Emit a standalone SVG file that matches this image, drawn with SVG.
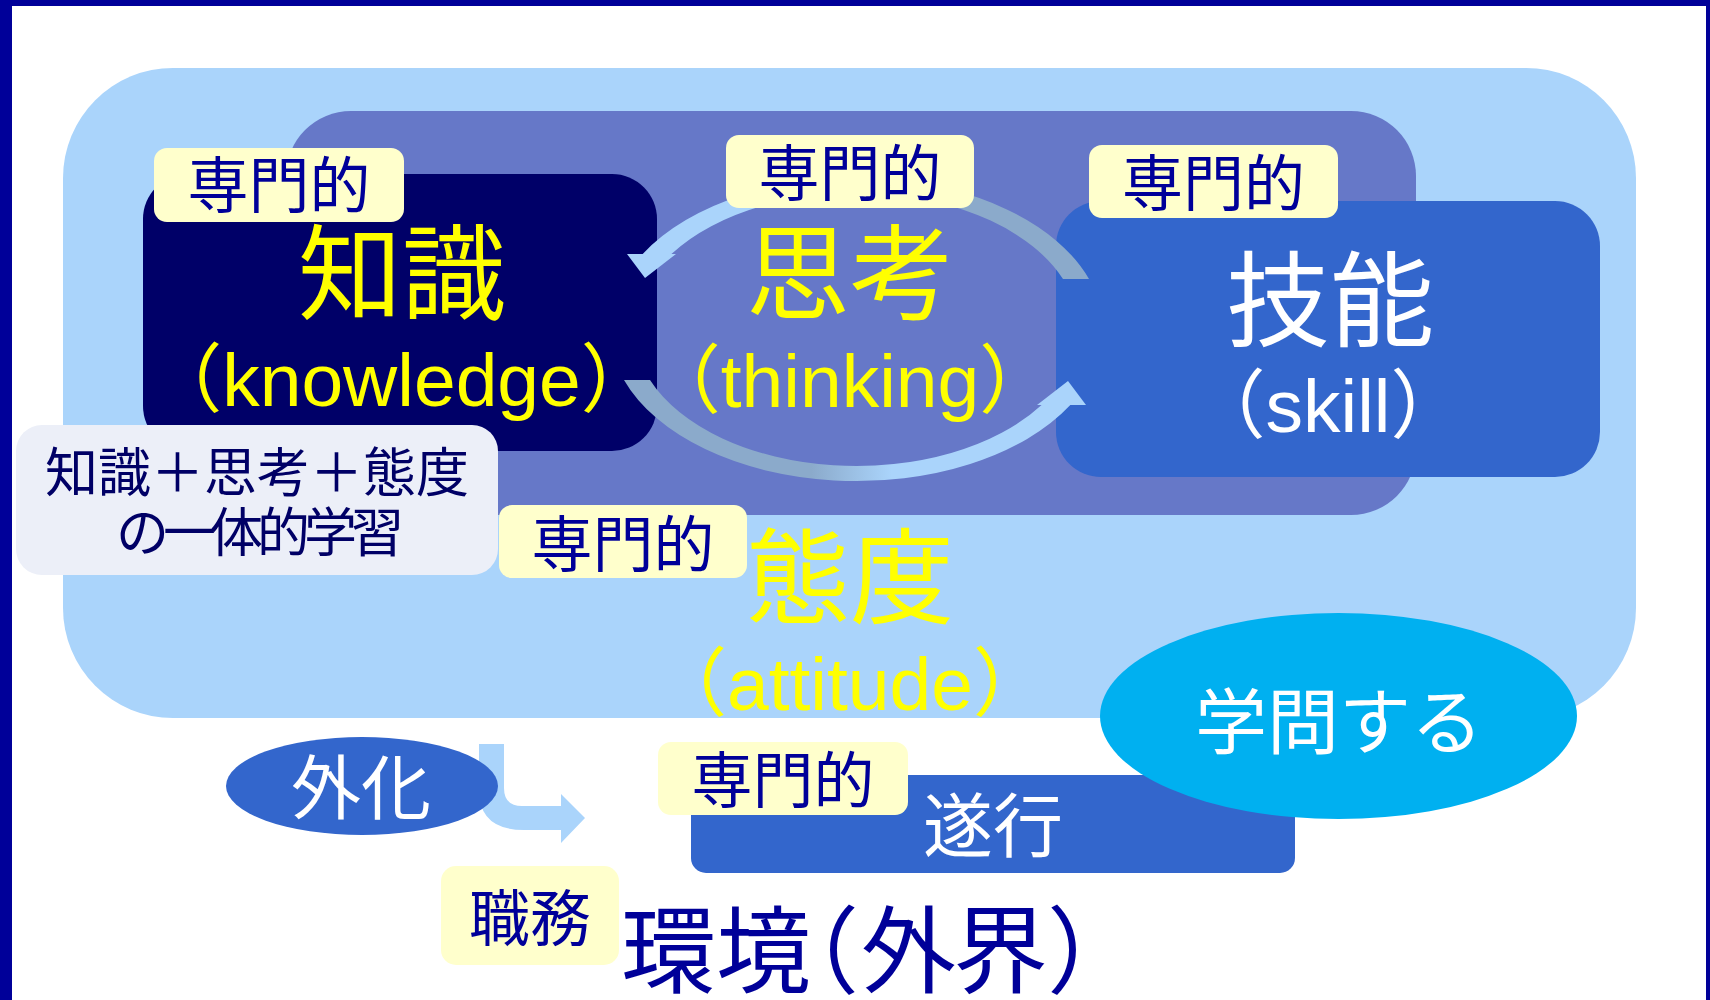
<svg xmlns="http://www.w3.org/2000/svg" width="1710" height="1000" viewBox="0 0 1710 1000">
<defs>
<style>
.cjk{font-family:"Noto Sans CJK JP","Noto Sans CJK SC",sans-serif;}
.lat{font-family:"Liberation Sans","Noto Sans CJK JP",sans-serif;}
.lbl{fill:#FFFFCC;}
.lbltxt{fill:#000099;font-size:61px;text-anchor:middle;}
.big{font-size:104px;text-anchor:middle;}
.sub{font-size:75px;text-anchor:middle;}
.yel{fill:#FFFF00;}
.wht{fill:#FFFFFF;}
.arrowfill{fill:#AAD4FB;}
</style>
<linearGradient id="gUp" gradientUnits="userSpaceOnUse" x1="1089" y1="0" x2="643" y2="0">
<stop offset="0" stop-color="#8BAACB"/>
<stop offset="0.4" stop-color="#8BAACB"/>
<stop offset="0.62" stop-color="#AAD4FB"/>
<stop offset="1" stop-color="#AAD4FB"/>
</linearGradient>
<linearGradient id="gDn" gradientUnits="userSpaceOnUse" x1="624" y1="0" x2="1070" y2="0">
<stop offset="0" stop-color="#8BAACB"/>
<stop offset="0.42" stop-color="#8BAACB"/>
<stop offset="0.6" stop-color="#AAD4FB"/>
<stop offset="1" stop-color="#AAD4FB"/>
</linearGradient>
</defs>

<!-- frame -->
<rect x="0" y="0" width="1710" height="1000" fill="#FFFFFF"/>
<rect x="0" y="0" width="1710" height="6" fill="#000099"/>
<rect x="0" y="0" width="12" height="1000" fill="#000099"/>
<rect x="1706" y="0" width="4" height="1000" fill="#000099"/>

<g id="attitude">
<rect x="63" y="68" width="1573" height="650" rx="110" ry="110" fill="#AAD4FB"/>
</g>
<g id="thinking-area">
<rect x="286" y="111" width="1130" height="404" rx="65" ry="65" fill="#6678C8"/>
</g>
<g id="knowledge">
<rect x="143" y="174" width="514" height="277" rx="45" ry="45" fill="#000068"/>
</g>
<g id="skill">
<rect x="1056" y="201" width="544" height="276" rx="45" ry="45" fill="#3366CC"/>
</g>

<g id="connectors">
<path d="M1089 279 A246.6 151.5 0 0 0 642.7 254 L671.4 254 A222.2 136.5 0 0 1 1063 279 Z" fill="url(#gUp)"/>
<polygon points="627,254 645,278 676,254" fill="#AAD4FB"/>
<path d="M624 380 A246.6 151.5 0 0 0 1070.3 405 L1041.6 405 A222.2 136.5 0 0 1 650 380 Z" fill="url(#gDn)"/>
<polygon points="1086,405 1068,381 1037,405" fill="#AAD4FB"/>
<path class="arrowfill" d="M479 744 H504 V788 Q504 806 522 806 H561 V794 L585 818 L561 843 V830 H524 Q479 830 479 790 Z"/>
</g>

<g id="knowledge-text">
<text class="cjk big yel" x="402" y="312">知識</text>
<text class="lat sub yel" x="401.5" y="406">（knowledge）</text>
</g>
<g id="thinking-text">
<text class="cjk big yel" x="850" y="312">思考</text>
<text class="lat sub yel" x="850" y="407">（thinking）</text>
</g>
<g id="skill-text">
<text class="cjk big wht" x="1330" y="339">技能</text>
<text class="lat sub wht" x="1328" y="432">（skill）</text>
</g>
<g id="attitude-text">
<text class="cjk big yel" x="850" y="616">態度</text>
<text class="lat sub yel" x="850" y="710">（attitude）</text>
</g>

<g id="label-knowledge">
<rect class="lbl" x="154" y="148" width="250" height="74" rx="13"/>
<text class="cjk lbltxt" x="279" y="208">専門的</text>
</g>
<g id="label-thinking">
<rect class="lbl" x="726" y="135" width="248" height="73" rx="13"/>
<text class="cjk lbltxt" x="850" y="196">専門的</text>
</g>
<g id="label-skill">
<rect class="lbl" x="1089" y="145" width="249" height="73" rx="13"/>
<text class="cjk lbltxt" x="1213.5" y="206">専門的</text>
</g>
<g id="label-attitude">
<rect class="lbl" x="499" y="505" width="248" height="73" rx="13"/>
<text class="cjk lbltxt" x="623" y="567">専門的</text>
</g>

<g id="integrated">
<rect x="16" y="425" width="482" height="150" rx="26" fill="#ECEFF8"/>
<text class="cjk" x="257" y="492" font-size="53" fill="#000066" text-anchor="middle">知識＋思考＋態度</text>
<text class="cjk" x="257" y="552" font-size="53" fill="#000066" text-anchor="middle" letter-spacing="-6">の一体的学習</text>
</g>

<g id="execution">
<rect x="691" y="775" width="604" height="98" rx="15" fill="#3366CC"/>
<text class="cjk wht" x="993" y="852" font-size="70" text-anchor="middle">遂行</text>
</g>
<g id="label-execution">
<rect class="lbl" x="658" y="742" width="250" height="73" rx="13"/>
<text class="cjk lbltxt" x="783" y="803">専門的</text>
</g>

<g id="scholarship">
<ellipse cx="1338.5" cy="716" rx="238.5" ry="103" fill="#00B0F0"/>
<text class="cjk wht" x="1339" y="748" font-size="72" text-anchor="middle">学問する</text>
</g>

<g id="externalize">
<ellipse cx="362" cy="786" rx="136" ry="49" fill="#3366CC"/>
<text class="cjk wht" x="361" y="814" font-size="70" text-anchor="middle">外化</text>
</g>

<g id="duty">
<rect class="lbl" x="441" y="866" width="178" height="99" rx="15"/>
<text class="cjk" x="530" y="941" font-size="61" fill="#000099" text-anchor="middle">職務</text>
</g>

<g id="environment">
<text class="cjk" x="621 716 764 861 953 1047" y="986" font-size="95" fill="#000099">環境（外界）</text>
</g>
</svg>
